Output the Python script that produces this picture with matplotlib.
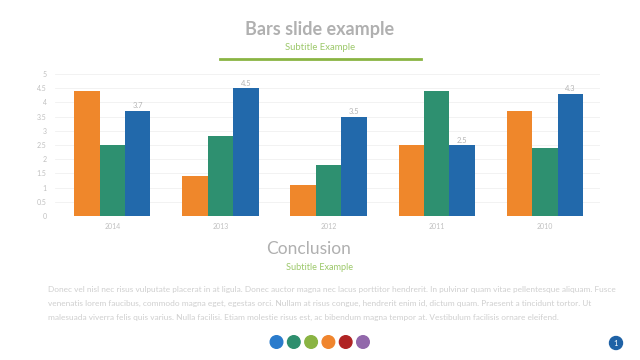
import numpy as np
import matplotlib.pyplot as plt
from matplotlib.patches import Circle

plt.rcParams['font.family'] = ['Lato', 'DejaVu Sans']

years = ['2014', '2013', '2012', '2011', '2010']
series_a = [4.4, 1.4, 1.1, 2.5, 3.7]   # orange
series_b = [2.5, 2.8, 1.8, 4.4, 2.4]   # green
series_c = [3.7, 4.5, 3.5, 2.5, 4.3]   # blue (labelled)
colors = ['#ef872b', '#2e9070', '#2269ab']
dot_colors = ['#2a7bcc', '#2e8f6e', '#8ab443', '#f0852d', '#b02424', '#9268ab']

body = ("Donec vel nisl nec risus vulputate placerat in at ligula. Donec auctor magna nec lacus porttitor hendrerit. In pulvinar quam vitae pellentesque aliquam. Fusce\n"
        "venenatis lorem faucibus, commodo magna eget, egestas orci. Nullam at risus congue, hendrerit enim id, dictum quam. Praesent a tincidunt tortor. Ut\n"
        "malesuada viverra felis quis varius. Nulla facilisi. Etiam molestie risus est, ac bibendum magna tempor at. Vestibulum facilisis ornare eleifend.")

fig = plt.figure(figsize=(6.4, 3.6), dpi=100)

# decoration layer in pixel coordinates
deco = fig.add_axes([0, 0, 1, 1])
deco.set_xlim(0, 640)
deco.set_ylim(360, 0)
deco.axis('off')
deco.text(320, 29, 'Bars slide example', ha='center', va='center',
          fontsize=13, fontweight='bold', color='#b0b0b0')
deco.text(320, 48, 'Subtitle Example', ha='center', va='center',
          fontsize=6.8, color='#9cc86a')
deco.plot([220, 421], [59, 59], color='#8ab443', lw=2)
deco.text(309, 249, 'Conclusion', ha='center', va='center',
          fontsize=12.5, color='#b0b0b0')
deco.text(320, 268, 'Subtitle Example', ha='center', va='center',
          fontsize=6.6, color='#9cc86a')
deco.text(48, 303.5, body, ha='left', va='center', fontsize=5.95,
          color='#cfcfcf', linespacing=2.15)
for i, c in enumerate(dot_colors):
    deco.add_patch(Circle((276.5 + i * 17.3, 342), 6.3, color=c))
deco.add_patch(Circle((616, 343), 6.5, color='#1f62a6'))
deco.text(616, 343, '1', ha='center', va='center', fontsize=5.5, color='white')

# chart
ax = fig.add_axes([55 / 640, 1 - 216 / 360, 545 / 640, 142 / 360])
x = np.arange(len(years))
w = 0.235
ax.bar(x - w, series_a, w, color=colors[0], zorder=3)
ax.bar(x, series_b, w, color=colors[1], zorder=3)
bars = ax.bar(x + w, series_c, w, color=colors[2], zorder=3)
for b, v in zip(bars, series_c):
    ax.text(b.get_x() + b.get_width() / 2, v + 0.05, str(v), ha='center',
            va='bottom', fontsize=5.5, color='#b5b5b5')

ax.set_xlim(-0.53, 4.51)
ax.set_ylim(0, 5)
ax.set_yticks(np.arange(0, 5.01, 0.5))
ax.set_yticklabels(['0', '0.5', '1', '1.5', '2', '2.5', '3', '3.5', '4', '4.5', '5'])
ax.set_xticks(x)
ax.set_xticklabels(years)
ax.tick_params(axis='both', length=0, labelsize=5, colors='#c0c0c0')
ax.tick_params(axis='y', pad=6)
ax.tick_params(axis='x', pad=5)
ax.grid(axis='y', color='#f0f0f0', lw=0.6, zorder=0)
for s in ax.spines.values():
    s.set_visible(False)
ax.axhline(0, color='#e4e4e4', lw=0.6, zorder=2)
ax.patch.set_alpha(0)

fig.savefig('out.png', dpi=100)
